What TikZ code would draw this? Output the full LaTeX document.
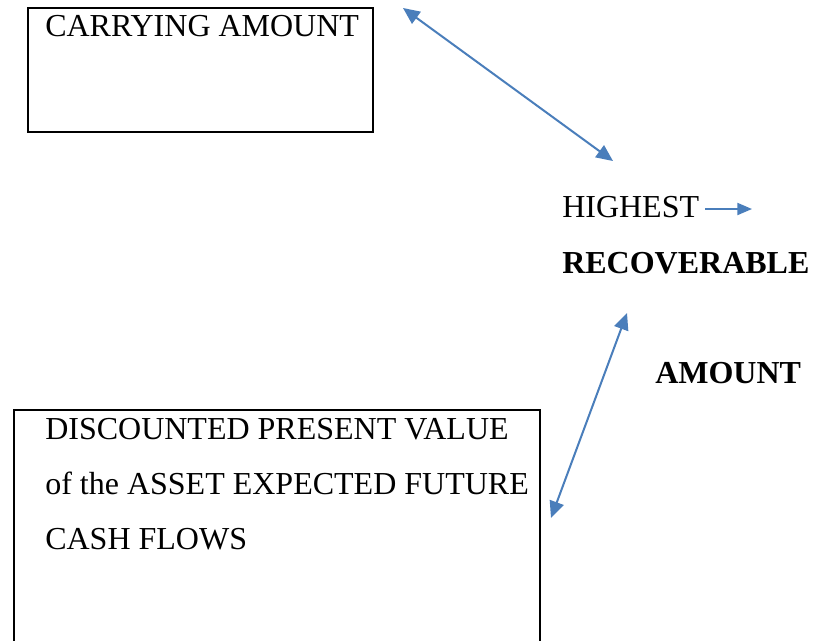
\documentclass[tikz,border=0pt]{standalone}
\usepackage{fontspec}
\setmainfont{Liberation Serif}
\usetikzlibrary{arrows.meta}
\definecolor{linkblue}{HTML}{4A7EBB}
\tikzset{
  box/.style={draw=black, line width=1.6pt, rectangle, inner sep=0pt, anchor=north west},
  label/.style={anchor=base west, inner sep=0pt, font=\fontsize{24pt}{28pt}\selectfont},
  boldlabel/.style={label, font=\fontsize{24pt}{28pt}\selectfont\bfseries},
  link/.style={draw=linkblue, line width=1.5pt, {Triangle[length=12.5pt,width=11pt]}-{Triangle[length=12.5pt,width=11pt]}},
  onelink/.style={draw=linkblue, line width=1.5pt, -{Triangle[length=11pt,width=9pt]}}
}
\begin{document}
\begin{tikzpicture}[x=0.75pt, y=-0.75pt]
  \useasboundingbox (0,0) rectangle (813,640);
  \clip (0,0) rectangle (813,640);

  % upper box
  \node[box, minimum width=345*0.75pt, minimum height=124*0.75pt] (carrybox) at (27,7) {};
  \node[label] (carry) at (45,36) {CARRYING AMOUNT};

  % lower box, running past the lower edge
  \node[box, minimum width=526*0.75pt, minimum height=260*0.75pt] (dpvbox) at (13,409) {};
  \node[label] (dpv1) at (45,439) {DISCOUNTED PRESENT VALUE};
  \node[label] (dpv2) at (45,494) {of the ASSET EXPECTED FUTURE};
  \node[label] (dpv3) at (45,549) {CASH FLOWS};

  % right-hand labels
  \node[label] (highest) at (562,217) {HIGHEST};
  \node[boldlabel] (recov) at (562,273) {RECOVERABLE};
  \node[boldlabel] (amount) at (655,383) {AMOUNT};

  % arrow end points
  \coordinate (topA) at (403,8);
  \coordinate (topB) at (613,161);
  \coordinate (botA) at (627,313);
  \coordinate (botB) at (551,518);
  \coordinate (hiA) at (705,209);
  \coordinate (hiB) at (752,209);

  \draw[link] (topA) -- (topB);
  \draw[link] (botA) -- (botB);
  \draw[onelink] (hiA) -- (hiB);
\end{tikzpicture}
\end{document}
